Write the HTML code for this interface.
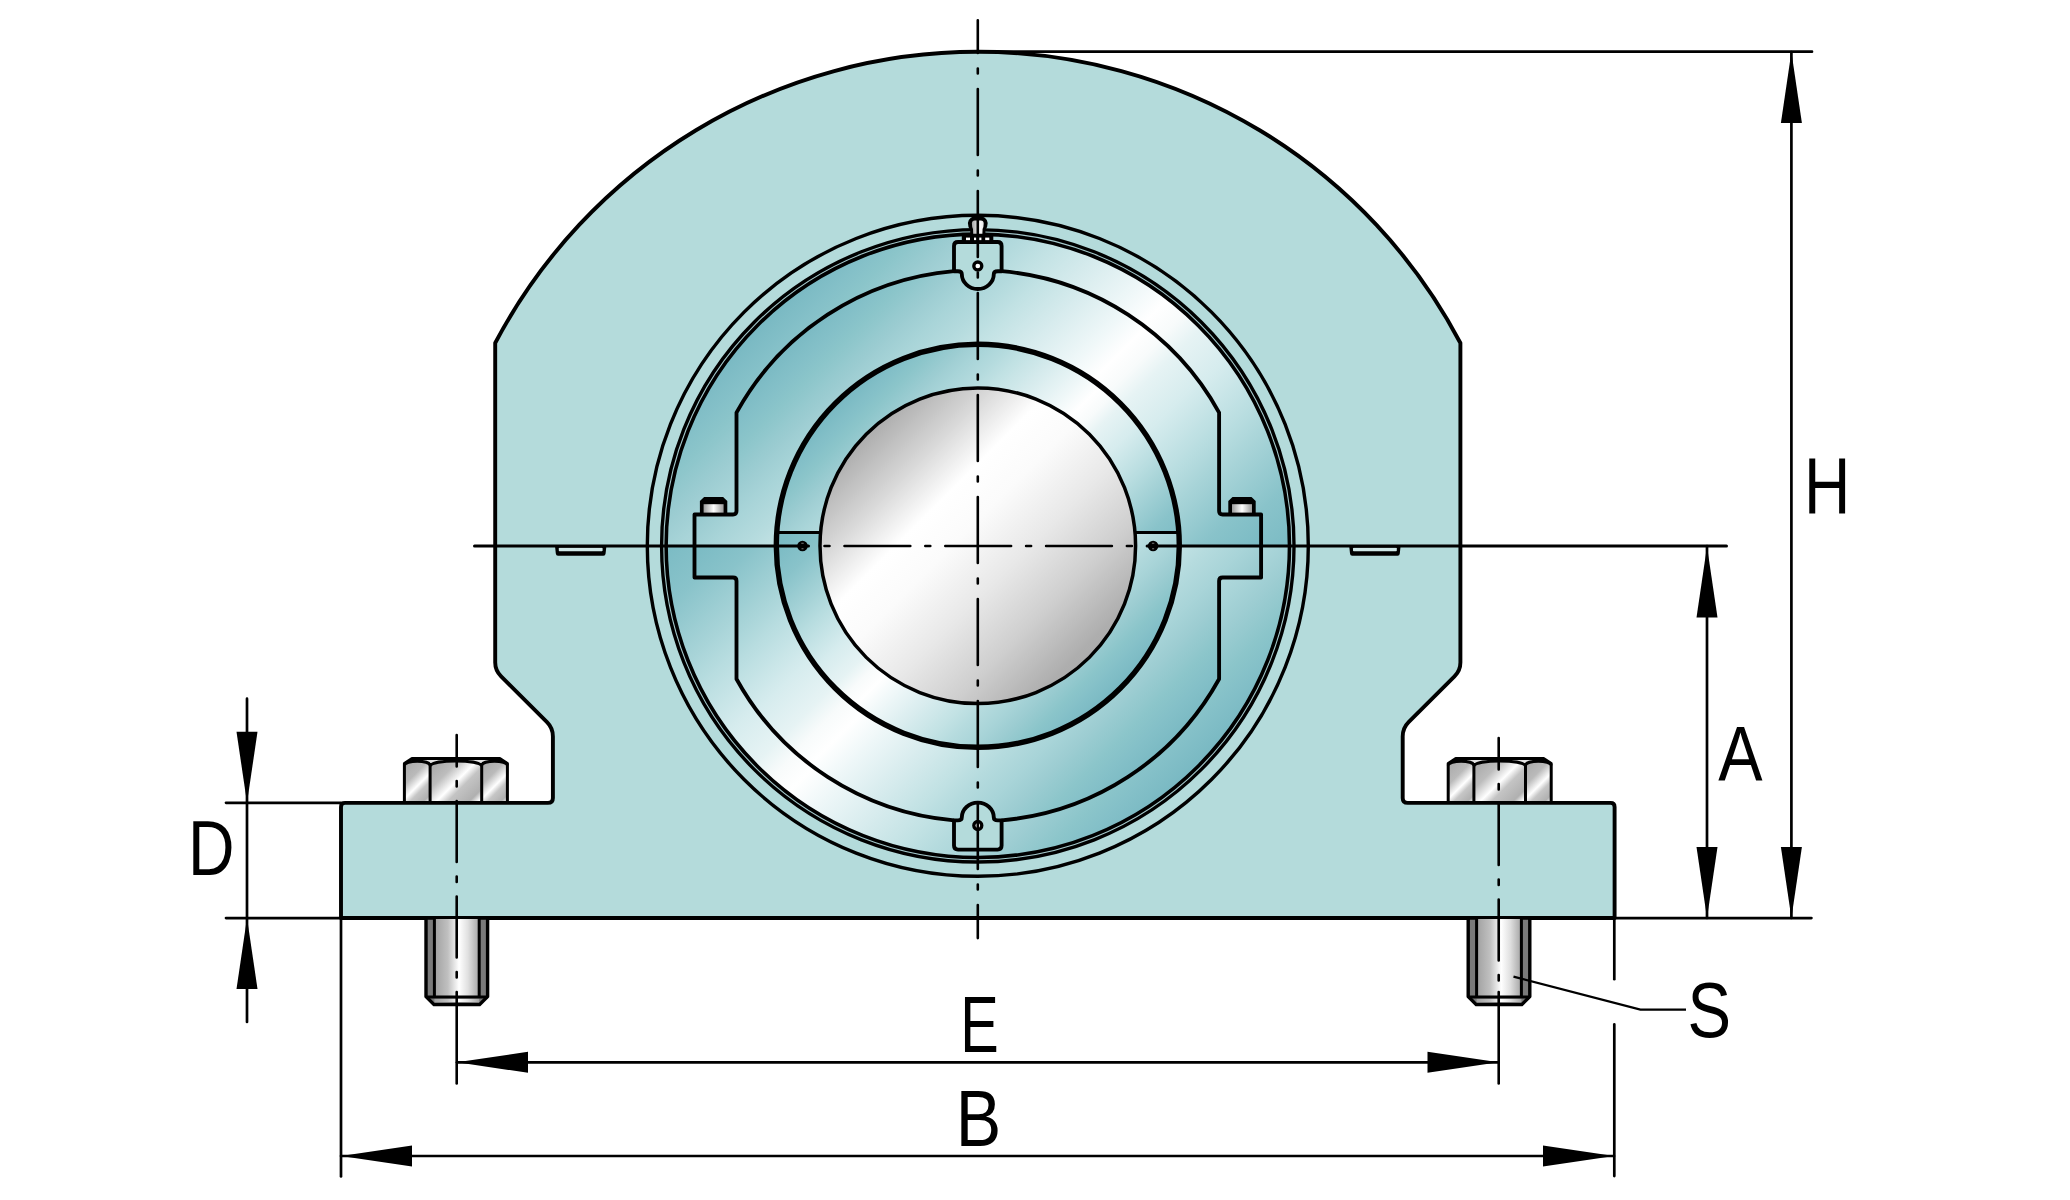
<!DOCTYPE html>
<html><head><meta charset="utf-8"><style>
html,body{margin:0;padding:0;background:#fff;}
#wrap{position:relative;width:2070px;height:1200px;overflow:hidden;background:#fff;}
svg{position:absolute;left:0;top:0;display:block;}
text{font-family:"Liberation Sans",sans-serif;}
</style></head><body>
<div id="wrap">
<svg width="2070" height="1200" viewBox="0 0 2070 1200">
<path d="M 495.2 343.0 A 545.5 545.5 0 0 1 1460.4 343.0 L 1460.4 662.4 Q 1460.4 670.4 1454.5 676.3 L 1408.6 722.2 Q 1402.7 728.1 1402.7 736.5 L 1402.7 797.9 Q 1402.7 802.9 1407.7 802.9 L 1610.6 802.9 Q 1614.6 802.9 1614.6 806.9 L 1614.6 918 L 341.0 918 L 341.0 806.9 Q 341.0 802.9 345.0 802.9 L 547.9 802.9 Q 552.9 802.9 552.9 797.9 L 552.9 736.5 Q 552.9 728.1 547.0 722.2 L 501.1 676.3 Q 495.2 670.4 495.2 662.4 Z" fill="#b4dbdb" stroke="#000" stroke-width="3.9" stroke-linejoin="round"/>
</svg>
<svg width="2070" height="1200" viewBox="0 0 2070 1200">

<defs>
 <linearGradient id="gShaft" gradientUnits="userSpaceOnUse" x1="821" y1="388" x2="1135" y2="702">
  <stop offset="0" stop-color="#a0a0a0"/>
  <stop offset="0.155" stop-color="#b0b0b0"/>
  <stop offset="0.27" stop-color="#d8d8d8"/>
  <stop offset="0.37" stop-color="#ffffff"/>
  <stop offset="0.46" stop-color="#fbfbfb"/>
  <stop offset="0.586" stop-color="#e8e8e8"/>
  <stop offset="0.709" stop-color="#cfcfcf"/>
  <stop offset="0.833" stop-color="#aeaeae"/>
  <stop offset="1" stop-color="#a0a0a0"/>
 </linearGradient>
 <linearGradient id="gNut" x1="0" y1="0" x2="1" y2="1">
  <stop offset="0" stop-color="#a4a4a4"/>
  <stop offset="0.3" stop-color="#bdbdbd"/>
  <stop offset="0.5" stop-color="#ffffff"/>
  <stop offset="0.62" stop-color="#c4c4c4"/>
  <stop offset="0.85" stop-color="#b0b0b0"/>
  <stop offset="0.95" stop-color="#ffffff"/>
  <stop offset="1" stop-color="#c0c0c0"/>
 </linearGradient>
 <linearGradient id="gNutS" x1="0" y1="0" x2="1" y2="1">
  <stop offset="0" stop-color="#a8a8a8"/>
  <stop offset="0.35" stop-color="#bababa"/>
  <stop offset="0.56" stop-color="#ffffff"/>
  <stop offset="0.68" stop-color="#c6c6c6"/>
  <stop offset="0.88" stop-color="#b0b0b0"/>
  <stop offset="0.97" stop-color="#f2f2f2"/>
  <stop offset="1" stop-color="#d0d0d0"/>
 </linearGradient>
 <linearGradient id="gShank" x1="0" y1="0" x2="1" y2="0">
  <stop offset="0" stop-color="#a0a0a0"/>
  <stop offset="0.3" stop-color="#c0c0c0"/>
  <stop offset="0.55" stop-color="#ffffff"/>
  <stop offset="0.75" stop-color="#e0e0e0"/>
  <stop offset="1" stop-color="#a4a4a4"/>
 </linearGradient>
 <linearGradient id="gNip" x1="0" y1="0" x2="1" y2="0">
  <stop offset="0" stop-color="#a8a8a8"/>
  <stop offset="0.45" stop-color="#dcdcdc"/>
  <stop offset="0.6" stop-color="#ffffff"/>
  <stop offset="1" stop-color="#e8e8e8"/>
 </linearGradient>
 <linearGradient id="gHoriz" x1="0" y1="0" x2="1" y2="0">
  <stop offset="0" stop-color="#9c9c9c"/>
  <stop offset="0.5" stop-color="#ffffff"/>
  <stop offset="1" stop-color="#9c9c9c"/>
 </linearGradient>
<linearGradient id="gAU" gradientUnits="userSpaceOnUse" x1="665.8" y1="233.0" x2="1289.8" y2="857.0"><stop offset="0.0" stop-color="#78b8c2"/><stop offset="0.146" stop-color="#78b8c2"/><stop offset="0.18" stop-color="#84c0c8"/><stop offset="0.2" stop-color="#8bc5ca"/><stop offset="0.235" stop-color="#9dcdd2"/><stop offset="0.26" stop-color="#a8d4d8"/><stop offset="0.293" stop-color="#b5dbde"/><stop offset="0.32" stop-color="#c2e2e4"/><stop offset="0.37" stop-color="#d8ecee"/><stop offset="0.42" stop-color="#eef7f8"/><stop offset="0.455" stop-color="#ffffff"/><stop offset="0.48" stop-color="#f8fbfb"/><stop offset="0.505" stop-color="#e6f3f4"/><stop offset="0.55" stop-color="#d6ecee"/><stop offset="0.61" stop-color="#b8dde0"/><stop offset="0.64" stop-color="#a8d4d8"/><stop offset="0.7" stop-color="#89c3ca"/><stop offset="0.75" stop-color="#7bbbc4"/><stop offset="1.0" stop-color="#78b8c2"/></linearGradient>
<linearGradient id="gAL" gradientUnits="userSpaceOnUse" x1="1289.8" y1="858.6" x2="665.8" y2="234.6"><stop offset="0.0" stop-color="#78b8c2"/><stop offset="0.146" stop-color="#78b8c2"/><stop offset="0.18" stop-color="#84c0c8"/><stop offset="0.2" stop-color="#8bc5ca"/><stop offset="0.235" stop-color="#9dcdd2"/><stop offset="0.26" stop-color="#a8d4d8"/><stop offset="0.293" stop-color="#b5dbde"/><stop offset="0.32" stop-color="#c2e2e4"/><stop offset="0.37" stop-color="#d8ecee"/><stop offset="0.42" stop-color="#eef7f8"/><stop offset="0.455" stop-color="#ffffff"/><stop offset="0.48" stop-color="#f8fbfb"/><stop offset="0.505" stop-color="#e6f3f4"/><stop offset="0.55" stop-color="#d6ecee"/><stop offset="0.61" stop-color="#b8dde0"/><stop offset="0.64" stop-color="#a8d4d8"/><stop offset="0.7" stop-color="#89c3ca"/><stop offset="0.75" stop-color="#7bbbc4"/><stop offset="1.0" stop-color="#78b8c2"/></linearGradient><linearGradient id="gBU" gradientUnits="userSpaceOnUse" x1="694.0" y1="269.0" x2="1254.0" y2="829.0"><stop offset="0.0" stop-color="#78b8c2"/><stop offset="0.146" stop-color="#78b8c2"/><stop offset="0.18" stop-color="#84c0c8"/><stop offset="0.2" stop-color="#8bc5ca"/><stop offset="0.235" stop-color="#9dcdd2"/><stop offset="0.26" stop-color="#a8d4d8"/><stop offset="0.293" stop-color="#b5dbde"/><stop offset="0.32" stop-color="#c2e2e4"/><stop offset="0.37" stop-color="#d8ecee"/><stop offset="0.42" stop-color="#eef7f8"/><stop offset="0.455" stop-color="#ffffff"/><stop offset="0.48" stop-color="#f8fbfb"/><stop offset="0.505" stop-color="#e6f3f4"/><stop offset="0.55" stop-color="#d6ecee"/><stop offset="0.61" stop-color="#b8dde0"/><stop offset="0.64" stop-color="#a8d4d8"/><stop offset="0.7" stop-color="#89c3ca"/><stop offset="0.75" stop-color="#7bbbc4"/><stop offset="1.0" stop-color="#78b8c2"/></linearGradient>
<linearGradient id="gBL" gradientUnits="userSpaceOnUse" x1="1261.6" y1="822.6" x2="701.6" y2="262.6"><stop offset="0.0" stop-color="#78b8c2"/><stop offset="0.146" stop-color="#78b8c2"/><stop offset="0.18" stop-color="#84c0c8"/><stop offset="0.2" stop-color="#8bc5ca"/><stop offset="0.235" stop-color="#9dcdd2"/><stop offset="0.26" stop-color="#a8d4d8"/><stop offset="0.293" stop-color="#b5dbde"/><stop offset="0.32" stop-color="#c2e2e4"/><stop offset="0.37" stop-color="#d8ecee"/><stop offset="0.42" stop-color="#eef7f8"/><stop offset="0.455" stop-color="#ffffff"/><stop offset="0.48" stop-color="#f8fbfb"/><stop offset="0.505" stop-color="#e6f3f4"/><stop offset="0.55" stop-color="#d6ecee"/><stop offset="0.61" stop-color="#b8dde0"/><stop offset="0.64" stop-color="#a8d4d8"/><stop offset="0.7" stop-color="#89c3ca"/><stop offset="0.75" stop-color="#7bbbc4"/><stop offset="1.0" stop-color="#78b8c2"/></linearGradient><linearGradient id="gCU" gradientUnits="userSpaceOnUse" x1="776.8" y1="344.0" x2="1178.8" y2="746.0"><stop offset="0.0" stop-color="#78b8c2"/><stop offset="0.146" stop-color="#78b8c2"/><stop offset="0.18" stop-color="#84c0c8"/><stop offset="0.2" stop-color="#8bc5ca"/><stop offset="0.235" stop-color="#9dcdd2"/><stop offset="0.26" stop-color="#a8d4d8"/><stop offset="0.293" stop-color="#b5dbde"/><stop offset="0.32" stop-color="#c2e2e4"/><stop offset="0.37" stop-color="#d8ecee"/><stop offset="0.42" stop-color="#eef7f8"/><stop offset="0.455" stop-color="#ffffff"/><stop offset="0.48" stop-color="#f8fbfb"/><stop offset="0.505" stop-color="#e6f3f4"/><stop offset="0.55" stop-color="#d6ecee"/><stop offset="0.61" stop-color="#b8dde0"/><stop offset="0.64" stop-color="#a8d4d8"/><stop offset="0.7" stop-color="#89c3ca"/><stop offset="0.75" stop-color="#7bbbc4"/><stop offset="1.0" stop-color="#78b8c2"/></linearGradient>
<linearGradient id="gCL" gradientUnits="userSpaceOnUse" x1="1178.8" y1="747.6" x2="776.8" y2="345.6"><stop offset="0.0" stop-color="#78b8c2"/><stop offset="0.146" stop-color="#78b8c2"/><stop offset="0.18" stop-color="#84c0c8"/><stop offset="0.2" stop-color="#8bc5ca"/><stop offset="0.235" stop-color="#9dcdd2"/><stop offset="0.26" stop-color="#a8d4d8"/><stop offset="0.293" stop-color="#b5dbde"/><stop offset="0.32" stop-color="#c2e2e4"/><stop offset="0.37" stop-color="#d8ecee"/><stop offset="0.42" stop-color="#eef7f8"/><stop offset="0.455" stop-color="#ffffff"/><stop offset="0.48" stop-color="#f8fbfb"/><stop offset="0.505" stop-color="#e6f3f4"/><stop offset="0.55" stop-color="#d6ecee"/><stop offset="0.61" stop-color="#b8dde0"/><stop offset="0.64" stop-color="#a8d4d8"/><stop offset="0.7" stop-color="#89c3ca"/><stop offset="0.75" stop-color="#7bbbc4"/><stop offset="1.0" stop-color="#78b8c2"/></linearGradient><clipPath id="cU"><rect x="0" y="0" width="2070" height="546"/></clipPath><clipPath id="cL"><rect x="0" y="546" width="2070" height="700"/></clipPath></defs>

<path d="M 555.0 546.0 L 555.8 553.5 Q 556.0 555.8 558.0 555.8 L 603.4 555.8 Q 605.4 555.8 605.6 553.5 L 606.4 546.0 Z" fill="#000"/>
<rect x="558.8" y="547.8" width="43.8" height="3.4" rx="0.8" fill="#cfe7e7"/>
<path d="M 1349.2 546.0 L 1350.0 553.5 Q 1350.2 555.8 1352.2 555.8 L 1397.6 555.8 Q 1399.6 555.8 1399.8 553.5 L 1400.6 546.0 Z" fill="#000"/>
<rect x="1353.0" y="547.8" width="43.8" height="3.4" rx="0.8" fill="#cfe7e7"/>
<path d="M 665.30 546.0 A 312.5 312.5 0 1 1 1290.30 546.0 Z" fill="url(#gAU)"/>
<path d="M 665.30 546.0 A 312.5 312.5 0 0 0 1290.30 546.0 Z" fill="url(#gAL)"/>
<circle cx="977.8" cy="545.8" r="330.5" fill="none" stroke="#000" stroke-width="3.4"/>
<circle cx="977.8" cy="545.8" r="313.9" fill="none" stroke="#000" stroke-width="8"/>
<circle cx="977.8" cy="545.8" r="314.0" fill="none" stroke="#a4c9cc" stroke-width="1.1"/>
<path d="M 954.0 271.2 A 275.6 275.6 0 0 0 736.5 412.6 L 736.5 514.5 L 694.5 514.5 L 694.5 577.5 L 736.5 577.5 L 736.5 679.0 A 275.6 275.6 0 0 0 954.0 820.4 L 1001.6 820.4 A 275.6 275.6 0 0 0 1219.1 679.0 L 1219.1 577.5 L 1261.1 577.5 L 1261.1 514.5 L 1219.1 514.5 L 1219.1 412.6 A 275.6 275.6 0 0 0 1001.6 271.2 Z" fill="url(#gBU)" clip-path="url(#cU)"/>
<path d="M 954.0 271.2 A 275.6 275.6 0 0 0 736.5 412.6 L 736.5 514.5 L 694.5 514.5 L 694.5 577.5 L 736.5 577.5 L 736.5 679.0 A 275.6 275.6 0 0 0 954.0 820.4 L 1001.6 820.4 A 275.6 275.6 0 0 0 1219.1 679.0 L 1219.1 577.5 L 1261.1 577.5 L 1261.1 514.5 L 1219.1 514.5 L 1219.1 412.6 A 275.6 275.6 0 0 0 1001.6 271.2 Z" fill="url(#gBL)" clip-path="url(#cL)"/>
<path d="M 776.80 546.0 A 201 201 0 1 1 1178.80 546.0 Z" fill="url(#gCU)"/>
<path d="M 776.80 546.0 A 201 201 0 0 0 1178.80 546.0 Z" fill="url(#gCL)"/>
<path d="M 954.0 271.2 A 275.6 275.6 0 0 0 736.5 412.6 L 736.5 511.0 Q 736.5 514.5 733.0 514.5 L 694.5 514.5 L 694.5 577.5 L 733.0 577.5 Q 736.5 577.5 736.5 581.0 L 736.5 679.0 A 275.6 275.6 0 0 0 954.0 820.4 M 1001.6 271.2 A 275.6 275.6 0 0 1 1219.1 412.6 L 1219.1 511.0 Q 1219.1 514.5 1222.6 514.5 L 1261.1 514.5 L 1261.1 577.5 L 1222.6 577.5 Q 1219.1 577.5 1219.1 581.0 L 1219.1 679.0 A 275.6 275.6 0 0 1 1001.6 820.4" fill="none" stroke="#000" stroke-width="3.85" stroke-linejoin="round"/>
<path d="M 954.0 271.2 L 954.0 246.0 Q 954.0 242.0 958.0 242.0 L 997.6 242.0 Q 1001.6 242.0 1001.6 246.0 L 1001.6 271.2 L 997.8 271.2 Q 993.8 271.2 993.8 274.0 A 16 15 0 0 1 961.8 274.0 Q 961.8 271.2 957.8 271.2 Z" fill="#b4dbdb" stroke="#000" stroke-width="3.85" stroke-linejoin="round"/>
<path d="M 954.0 820.4 L 954.0 845.6 Q 954.0 849.6 958.0 849.6 L 997.6 849.6 Q 1001.6 849.6 1001.6 845.6 L 1001.6 820.4 L 997.8 820.4 Q 993.8 820.4 993.8 817.6 A 16 15 0 0 0 961.8 817.6 Q 961.8 820.4 957.8 820.4 Z" fill="#b4dbdb" stroke="#000" stroke-width="3.85" stroke-linejoin="round"/>
<circle cx="977.8" cy="266.0" r="4.0" fill="#fff" stroke="#000" stroke-width="3.3"/>
<circle cx="977.8" cy="825.5" r="4.0" fill="#fff" stroke="#000" stroke-width="3.3"/>
<rect x="961.8" y="234.3" width="31.5" height="8.5" fill="#000"/>
<rect x="966.0" y="237.6" width="4.0" height="2.5" fill="#fff"/>
<rect x="974.0" y="237.6" width="2.2" height="2.5" fill="#fff"/>
<rect x="979.2" y="237.6" width="2.2" height="2.5" fill="#fff"/>
<rect x="985.2" y="237.6" width="4.1" height="2.5" fill="#fff"/>
<path d="M 970.1999999999999 235 L 970.1999999999999 230 Q 967.9 227 967.9 223 A 9.9 7.6 0 0 1 987.6999999999999 223 Q 987.6999999999999 227 985.4 230 L 985.4 235 Z" fill="#000"/>
<path d="M 973.1999999999999 233.8 L 973.0 229 Q 971.9 227 971.9 223.5 Q 971.9 220.6 974.8 220.6 L 980.8 220.6 Q 983.6999999999999 220.6 983.6999999999999 223.5 Q 983.6999999999999 227 982.5999999999999 229 L 982.4 233.8 Z" fill="url(#gNip)"/>
<rect x="776.8" y="532.5" width="46" height="13.5" fill="url(#gCL)"/>
<rect x="1132.8" y="532.5" width="46" height="13.5" fill="url(#gCL)"/>
<line x1="776.8" y1="532.5" x2="1178.8" y2="532.5" stroke="#000" stroke-width="3"/>
<circle cx="977.8" cy="545.8" r="201.5" fill="none" stroke="#000" stroke-width="5.4"/>
<circle cx="977.8" cy="545.8" r="157.8" fill="url(#gShaft)" stroke="#000" stroke-width="3.5"/>
<path d="M 699.9 515 L 699.9 501 L 704.1 497 L 723.1 497 L 727.3 501 L 727.3 515 Z" fill="#000"/>
<rect x="703.6" y="504.2" width="20.0" height="8.4" fill="url(#gHoriz)"/>
<path d="M 1228.3 515 L 1228.3 501 L 1232.5 497 L 1251.5 497 L 1255.7 501 L 1255.7 515 Z" fill="#000"/>
<rect x="1232.0" y="504.2" width="20.0" height="8.4" fill="url(#gHoriz)"/>
<line x1="474.5" y1="546.0" x2="808.5" y2="546.0" stroke="#000" stroke-width="3" stroke-linecap="round"/>
<line x1="1147.1" y1="546.0" x2="1726.5" y2="546.0" stroke="#000" stroke-width="3" stroke-linecap="round"/>
<circle cx="802.5" cy="546.0" r="5.3" fill="#000"/>
<path d="M 801.3 543.3 L 803.7 543.3 M 801.5 548.8 L 803.5 548.8" stroke="#777" stroke-width="1.1"/>
<circle cx="1153.1" cy="546.0" r="5.3" fill="#000"/>
<path d="M 1151.9 543.3 L 1154.3 543.3 M 1152.1 548.8 L 1154.1 548.8" stroke="#777" stroke-width="1.1"/>
<line x1="820.0" y1="546.0" x2="1135.6" y2="546.0" stroke="#000" stroke-width="2.6" stroke-linecap="round" stroke-dasharray="65.8 15 5 15" stroke-dashoffset="76.3"/>
<line x1="977.8" y1="20.3" x2="977.8" y2="938.1" stroke="#000" stroke-width="2.6" stroke-linecap="round" stroke-dasharray="66 15.5 5 15.5" stroke-dashoffset="33.3"/>
<path d="M 426.0 918 L 426.0 996.5 L 434.0 1004.6 L 479.6 1004.6 L 487.6 996.5 L 487.6 918 Z" fill="#7a7a7a" stroke="#000" stroke-width="3.4" stroke-linejoin="round"/>
<rect x="434.4" y="919" width="44.8" height="77" fill="url(#gShank)"/>
<line x1="434.4" y1="918" x2="434.4" y2="997" stroke="#000" stroke-width="3"/>
<line x1="479.2" y1="918" x2="479.2" y2="997" stroke="#000" stroke-width="3"/>
<rect x="434.4" y="998.5" width="44.8" height="3.5" fill="url(#gShank)"/>
<line x1="426.0" y1="997" x2="487.6" y2="997" stroke="#000" stroke-width="3"/>
<path d="M 404.4 802.9 L 404.4 763.5 L 412.0 758.5 L 499.8 758.5 L 507.4 763.5 L 507.4 801.0 L 404.4 801.0 Z" fill="#e4e4e4"/>
<linearGradient id="gN4044" href="#gNutS" gradientUnits="userSpaceOnUse" x1="404.4" y1="761.3" x2="438.0" y2="794.9"/>
<path d="M 404.4 801.0 L 404.4 765.4 C 404.9 759.93 429.6 759.93 430.1 765.4 L 430.1 801.0 Z" fill="url(#gN4044)"/>
<linearGradient id="gN4301" href="#gNut" gradientUnits="userSpaceOnUse" x1="430.1" y1="761.0" x2="476.8" y2="807.8"/>
<path d="M 430.1 801.0 L 430.1 766.3 C 431.1 759.23 480.7 759.23 481.7 766.3 L 481.7 801.0 Z" fill="url(#gN4301)"/>
<linearGradient id="gN4817" href="#gNutS" gradientUnits="userSpaceOnUse" x1="481.7" y1="761.3" x2="515.4" y2="794.9"/>
<path d="M 481.7 801.0 L 481.7 765.4 C 482.2 759.93 506.9 759.93 507.4 765.4 L 507.4 801.0 Z" fill="url(#gN4817)"/>
<path d="M 404.4 765.4 C 404.9 759.93 429.6 759.93 430.1 765.4 M 430.1 766.3 C 431.1 759.23 480.7 759.23 481.7 766.3 M 481.7 765.4 C 482.2 759.93 506.9 759.93 507.4 765.4" fill="none" stroke="#000" stroke-width="2.9"/>
<path d="M 430.1 801.0 L 430.1 763.5 M 481.7 801.0 L 481.7 763.5" stroke="#000" stroke-width="3"/>
<path d="M 404.4 802.9 L 404.4 763.5 L 412.0 758.5 L 499.8 758.5 L 507.4 763.5 L 507.4 802.9" fill="none" stroke="#000" stroke-width="3" stroke-linejoin="round"/>
<path d="M 1468.2 918 L 1468.2 996.5 L 1476.2 1004.6 L 1521.8 1004.6 L 1529.8 996.5 L 1529.8 918 Z" fill="#7a7a7a" stroke="#000" stroke-width="3.4" stroke-linejoin="round"/>
<rect x="1476.6" y="919" width="44.8" height="77" fill="url(#gShank)"/>
<line x1="1476.6" y1="918" x2="1476.6" y2="997" stroke="#000" stroke-width="3"/>
<line x1="1521.4" y1="918" x2="1521.4" y2="997" stroke="#000" stroke-width="3"/>
<rect x="1476.6" y="998.5" width="44.8" height="3.5" fill="url(#gShank)"/>
<line x1="1468.2" y1="997" x2="1529.8" y2="997" stroke="#000" stroke-width="3"/>
<path d="M 1448.2 802.9 L 1448.2 763.5 L 1455.8 758.5 L 1543.6 758.5 L 1551.2 763.5 L 1551.2 801.0 L 1448.2 801.0 Z" fill="#e4e4e4"/>
<linearGradient id="gN14482" href="#gNutS" gradientUnits="userSpaceOnUse" x1="1448.2" y1="761.3" x2="1481.9" y2="795.0"/>
<path d="M 1448.2 801.0 L 1448.2 765.4 C 1448.7 759.93 1473.4 759.93 1473.9 765.4 L 1473.9 801.0 Z" fill="url(#gN14482)"/>
<linearGradient id="gN14739" href="#gNut" gradientUnits="userSpaceOnUse" x1="1473.9" y1="761.0" x2="1520.7" y2="807.8"/>
<path d="M 1473.9 801.0 L 1473.9 766.3 C 1474.9 759.23 1524.5 759.23 1525.5 766.3 L 1525.5 801.0 Z" fill="url(#gN14739)"/>
<linearGradient id="gN15255" href="#gNutS" gradientUnits="userSpaceOnUse" x1="1525.5" y1="761.3" x2="1559.2" y2="795.0"/>
<path d="M 1525.5 801.0 L 1525.5 765.4 C 1526.0 759.93 1550.7 759.93 1551.2 765.4 L 1551.2 801.0 Z" fill="url(#gN15255)"/>
<path d="M 1448.2 765.4 C 1448.7 759.93 1473.4 759.93 1473.9 765.4 M 1473.9 766.3 C 1474.9 759.23 1524.5 759.23 1525.5 766.3 M 1525.5 765.4 C 1526.0 759.93 1550.7 759.93 1551.2 765.4" fill="none" stroke="#000" stroke-width="2.9"/>
<path d="M 1473.9 801.0 L 1473.9 763.5 M 1525.5 801.0 L 1525.5 763.5" stroke="#000" stroke-width="3"/>
<path d="M 1448.2 802.9 L 1448.2 763.5 L 1455.8 758.5 L 1543.6 758.5 L 1551.2 763.5 L 1551.2 802.9" fill="none" stroke="#000" stroke-width="3" stroke-linejoin="round"/>
<line x1="456.7" y1="735.0" x2="456.7" y2="992" stroke="#000" stroke-width="2.6" stroke-linecap="round" stroke-dasharray="61 14.5 5.5 14.5" stroke-dashoffset="29.5"/>
<line x1="456.7" y1="992" x2="456.7" y2="1083.5" stroke="#000" stroke-width="2.6" stroke-linecap="round"/>
<line x1="1498.7" y1="738.0" x2="1498.7" y2="992" stroke="#000" stroke-width="2.6" stroke-linecap="round" stroke-dasharray="61 14.5 5.5 14.5" stroke-dashoffset="29.5"/>
<line x1="1498.7" y1="992" x2="1498.7" y2="1083.5" stroke="#000" stroke-width="2.6" stroke-linecap="round"/>
<line x1="977.8" y1="51.7" x2="1812.0" y2="51.7" stroke="#000" stroke-width="2.7" stroke-linecap="round"/>
<line x1="1791.4" y1="52" x2="1791.4" y2="918" stroke="#000" stroke-width="2.7" stroke-linecap="round"/>
<path d="M 1791.4 52.0 L 1801.9 123.0 L 1780.9 123.0 Z" fill="#000"/>
<path d="M 1791.4 918.0 L 1780.9 847.0 L 1801.9 847.0 Z" fill="#000"/>
<line x1="1707" y1="546" x2="1707" y2="918" stroke="#000" stroke-width="2.7" stroke-linecap="round"/>
<path d="M 1707.0 546.5 L 1717.5 617.5 L 1696.5 617.5 Z" fill="#000"/>
<path d="M 1707.0 918.0 L 1696.5 847.0 L 1717.5 847.0 Z" fill="#000"/>
<line x1="1614" y1="918.1" x2="1811.4" y2="918.1" stroke="#000" stroke-width="2.7" stroke-linecap="round"/>
<line x1="247" y1="698.7" x2="247" y2="1022.0" stroke="#000" stroke-width="2.7" stroke-linecap="round"/>
<path d="M 247.0 802.8 L 236.5 731.8 L 257.5 731.8 Z" fill="#000"/>
<path d="M 247.0 918.0 L 257.5 989.0 L 236.5 989.0 Z" fill="#000"/>
<line x1="226.0" y1="802.8" x2="341.0" y2="802.8" stroke="#000" stroke-width="2.7" stroke-linecap="round"/>
<line x1="226.0" y1="918.1" x2="341.0" y2="918.1" stroke="#000" stroke-width="2.7" stroke-linecap="round"/>
<line x1="341.0" y1="918" x2="341.0" y2="1176.4" stroke="#000" stroke-width="2.7" stroke-linecap="round"/>
<line x1="1614.3" y1="918" x2="1614.3" y2="979.2" stroke="#000" stroke-width="2.7" stroke-linecap="round"/>
<line x1="1614.3" y1="1024.4" x2="1614.3" y2="1176.1" stroke="#000" stroke-width="2.7" stroke-linecap="round"/>
<line x1="457" y1="1062.3" x2="1498.5" y2="1062.3" stroke="#000" stroke-width="2.7" stroke-linecap="round"/>
<path d="M 457.0 1062.3 L 528.0 1051.8 L 528.0 1072.8 Z" fill="#000"/>
<path d="M 1498.5 1062.3 L 1427.5 1072.8 L 1427.5 1051.8 Z" fill="#000"/>
<line x1="341.0" y1="1156" x2="1614" y2="1156" stroke="#000" stroke-width="2.7" stroke-linecap="round"/>
<path d="M 341.0 1156.0 L 412.0 1145.5 L 412.0 1166.5 Z" fill="#000"/>
<path d="M 1614.0 1156.0 L 1543.0 1166.5 L 1543.0 1145.5 Z" fill="#000"/>
<path d="M 1513.5 976.6 L 1640.4 1009.6 L 1686 1009.6" fill="none" stroke="#000" stroke-width="2.2"/>
<text transform="translate(1803.94 513.38) scale(0.8147 1)" font-family="Liberation Sans" font-size="78.75" fill="#000">H</text>
<text transform="translate(1718.17 780.78) scale(0.8456 1)" font-family="Liberation Sans" font-size="78.60" fill="#000">A</text>
<text transform="translate(188.11 875.08) scale(0.8202 1)" font-family="Liberation Sans" font-size="78.60" fill="#000">D</text>
<text transform="translate(960.27 1052.08) scale(0.7270 1)" font-family="Liberation Sans" font-size="79.33" fill="#000">E</text>
<text transform="translate(955.71 1145.88) scale(0.8594 1)" font-family="Liberation Sans" font-size="79.33" fill="#000">B</text>
<text transform="translate(1687.49 1036.79) scale(0.8322 1)" font-family="Liberation Sans" font-size="78.50" fill="#000">S</text>
</svg>
</div>
</body></html>
